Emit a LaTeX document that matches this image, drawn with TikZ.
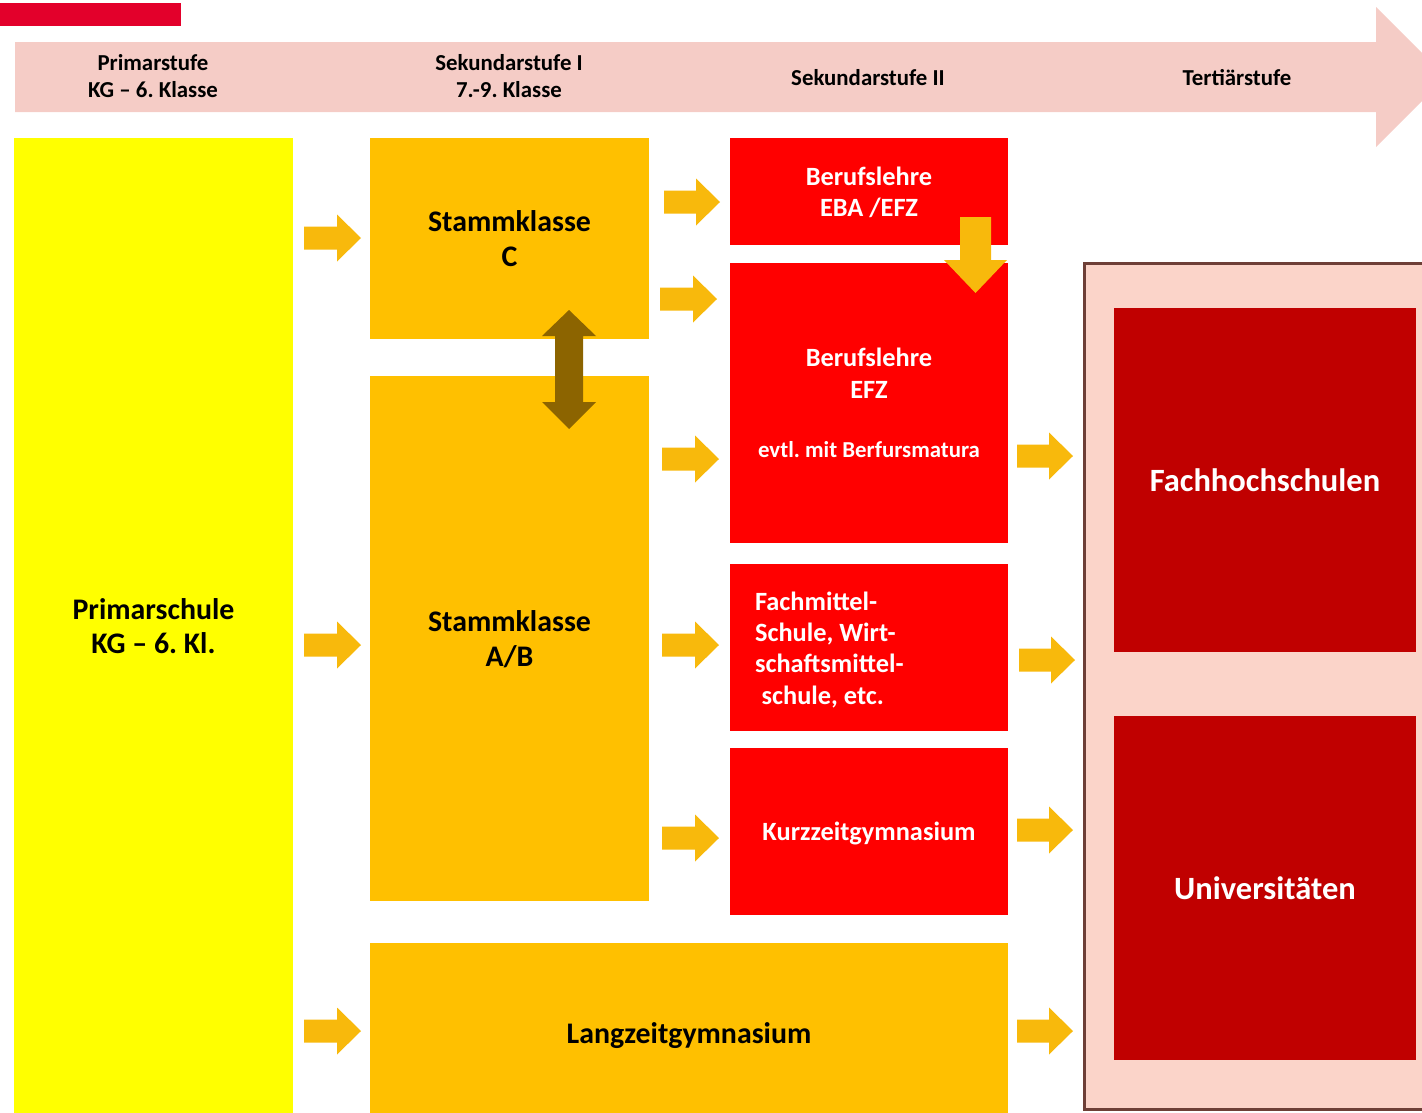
\documentclass[tikz,border=0pt]{standalone}
\usepackage{fontspec}
\setmainfont{Carlito}
\frenchspacing
\definecolor{bandpink}{HTML}{F5CCC6}
\definecolor{topred}{HTML}{E3002B}
\definecolor{primyellow}{HTML}{FFFF00}
\definecolor{sekorange}{HTML}{FFC000}
\definecolor{sekred}{HTML}{FF0000}
\definecolor{tertred}{HTML}{C00000}
\definecolor{tertpink}{HTML}{FBD4C9}
\definecolor{framebrown}{HTML}{6E3F37}
\definecolor{arrowgold}{HTML}{F8B90C}
\definecolor{swapbrown}{HTML}{8C6400}
\newcommand{\harrow}[3]{\fill[arrowgold] (#1,#3-11.5) -- (#2-24,#3-11.5) -- (#2-24,#3-23.5) -- (#2,#3) -- (#2-24,#3+23.5) -- (#2-24,#3+11.5) -- (#1,#3+11.5) -- cycle;}
\begin{document}
\begin{tikzpicture}[x=0.02cm,y=-0.02cm,
    box/.style={rectangle, inner sep=0pt, align=center, font=\bfseries},
    headtext/.style={align=center, inner sep=0pt, font=\fontsize{13}{15.4}\selectfont\bfseries},
    primbox/.style={box, fill=primyellow, font=\fontsize{17}{19.4}\selectfont\bfseries},
    orangebox/.style={box, fill=sekorange, font=\fontsize{17}{19.4}\selectfont\bfseries},
    redbox/.style={box, fill=sekred, text=white, minimum width=5.56cm, font=\fontsize{15}{17.8}\selectfont\bfseries},
    darkbox/.style={box, fill=tertred, text=white, minimum width=6.04cm, minimum height=6.88cm, font=\fontsize{18.5}{21}\selectfont\bfseries}]
       \useasboundingbox (0,0) rectangle (1422,1112);
       \clip (0,0) rectangle (1422,1112);
       \fill[topred] (0,3) rectangle (181,26);
       \fill[bandpink] (15,42) -- (1376,42) -- (1376,7) -- (1446,77) -- (1376,147) -- (1376,112) -- (15,112) -- cycle;
       \node[headtext] (h1) at (153,76.5) {Primarstufe\\KG -- 6. Klasse};
       \node[headtext] (h2) at (509,76.5) {Sekundarstufe I\\7.-9. Klasse};
       \node[headtext] (h3) at (868,77.5) {Sekundarstufe II};
       \node[headtext] (h4) at (1237,77.5) {Tertiärstufe};
       \node[primbox, minimum width=5.58cm, minimum height=19.52cm] (prim) at (153.5,626) {Primarschule\\KG -- 6. Kl.};
       \node[orangebox, minimum width=5.58cm, minimum height=4.02cm, text depth=-4pt] (stc) at (509.5,238.5) {Stammklasse\\C};
       \node[orangebox, minimum width=5.58cm, minimum height=10.5cm, text depth=-0.5pt] (stab) at (509.5,638.5) {Stammklasse\\A/B};
       \node[orangebox, minimum width=12.76cm, minimum height=3.6cm, text depth=0pt] (lzg) at (689,1033) {Langzeitgymnasium};
       \node[redbox, minimum height=2.14cm, text depth=-3.5pt] (eba) at (869,191.5) {Berufslehre\\EBA /EFZ};
       \node[redbox, minimum height=5.6cm] (efz) at (869,403) {Berufslehre\\EFZ\\[16pt]\fontsize{13}{15}\selectfont evtl. mit Berfursmatura};
       \node[redbox, minimum height=3.34cm, text width=4.56cm, inner xsep=0.5cm, align=flush left, text depth=53pt] (fms) at (869,647.5) {Fachmittel-\\Schule, Wirt-\\schaftsmittel-\\\hspace{0.25em}schule, etc.};
       \node[redbox, minimum height=3.34cm, text depth=0pt] (kzg) at (869,831.5) {Kurzzeitgymnasium};
       \node[rectangle, fill=tertpink, draw=framebrown, line width=0.06cm, minimum width=7.12cm, minimum height=16.94cm] (tert) at (1262,686.5) {};
       \node[darkbox] (fhs) at (1265,480) {Fachhochschulen};
       \node[darkbox] (uni) at (1265,888) {Universitäten};
       \harrow{304}{361}{238}
       \harrow{304}{361}{645}
       \harrow{304}{361}{1031}
       \harrow{664}{720}{202}
       \harrow{660}{717}{299}
       \harrow{662}{719}{459}
       \harrow{662}{719}{645}
       \harrow{662}{719}{838}
       \harrow{1017}{1073}{456}
       \harrow{1019}{1075}{660}
       \harrow{1017}{1073}{830}
       \harrow{1017}{1073}{1031}
       \fill[arrowgold] (960,217) -- (991,217) -- (991,260) -- (1007,260) -- (975.5,293) -- (944,260) -- (960,260) -- cycle;
       \fill[swapbrown] (569,310) -- (596,336) -- (583,336) -- (583,402) -- (596,402) -- (569,429) -- (542,402) -- (555,402) -- (555,336) -- (542,336) -- cycle;
      \end{tikzpicture}
\end{document}
